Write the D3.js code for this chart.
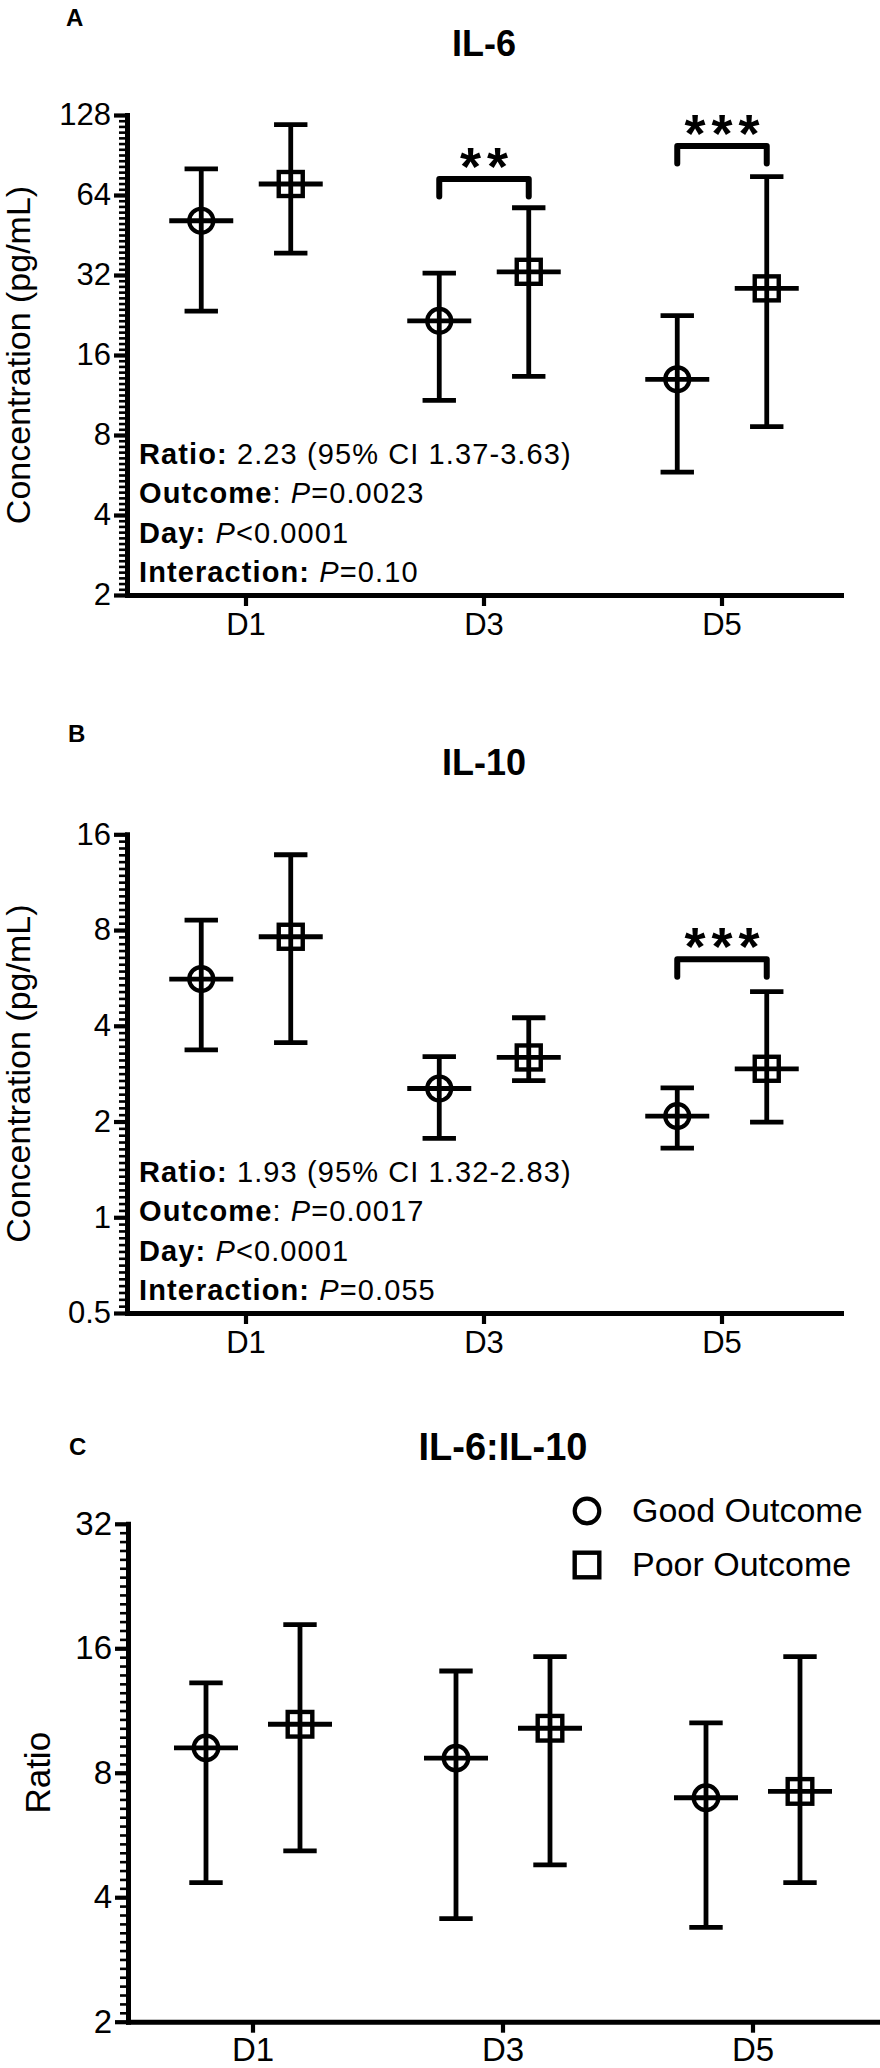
<!DOCTYPE html>
<html><head><meta charset="utf-8">
<script src="https://cdn.jsdelivr.net/npm/d3@7"></script>
<style>
body{margin:0;background:#fff}
svg{display:block}
text{font-family:"Liberation Sans",Arial,Helvetica,sans-serif;fill:#000}
</style>
</head><body>
<svg id="chart" width="880" height="2068"></svg>
<script>
// ---------- data ----------
const days = ["D1", "D3", "D5"];

// Panel A: IL-6 (pg/mL)
const il6GoodMean = [51.2, 21.5, 12.96];
const il6GoodLow  = [23.4, 10.8, 5.8];
const il6GoodHigh = [80.2, 32.5, 22.5];
const il6PoorMean = [70.4, 32.9, 28.5];
const il6PoorLow  = [38.7, 13.3, 8.6];
const il6PoorHigh = [117.7, 57.3, 75.0];
const il6Ticks = [2, 4, 8, 16, 32, 64, 128];
const il6Sig = [["D3", "**", 73.5], ["D5", "***", 97.9]];
const il6Stats = [
  [["Ratio:", "b"], [" 2.23 (95% CI 1.37-3.63)", ""]],
  [["Outcome", "b"], [": ", ""], ["P", "i"], ["=0.0023", ""]],
  [["Day:", "b"], [" ", ""], ["P", "i"], ["<0.0001", ""]],
  [["Interaction:", "b"], [" ", ""], ["P", "i"], ["=0.10", ""]]
];

// Panel B: IL-10 (pg/mL)
const il10GoodMean = [5.61, 2.54, 2.08];
const il10GoodLow  = [3.36, 1.77, 1.65];
const il10GoodHigh = [8.6, 3.2, 2.55];
const il10PoorMean = [7.62, 3.18, 2.93];
const il10PoorLow  = [3.54, 2.69, 1.99];
const il10PoorHigh = [13.8, 4.24, 5.12];
const il10Ticks = [0.5, 1, 2, 4, 8, 16];
const il10Sig = [["D5", "***", 6.47]];
const il10Stats = [
  [["Ratio:", "b"], [" 1.93 (95% CI 1.32-2.83)", ""]],
  [["Outcome", "b"], [": ", ""], ["P", "i"], ["=0.0017", ""]],
  [["Day:", "b"], [" ", ""], ["P", "i"], ["<0.0001", ""]],
  [["Interaction:", "b"], [" ", ""], ["P", "i"], ["=0.055", ""]]
];

// Panel C: IL-6:IL-10 ratio
const ratioGoodMean = [9.19, 8.68, 6.96];
const ratioGoodLow  = [4.34, 3.55, 3.38];
const ratioGoodHigh = [13.2, 14.1, 10.56];
const ratioPoorMean = [10.48, 10.25, 7.21];
const ratioPoorLow  = [5.18, 4.79, 4.34];
const ratioPoorHigh = [18.25, 15.27, 15.27];
const ratioTicks = [2, 4, 8, 16, 32];

const legendLabels = ["Good Outcome", "Poor Outcome"];

// ---------- drawing ----------
const svg = d3.select("#chart");
const FONT = '"Liberation Sans",Arial,Helvetica,sans-serif';
const LW = 4.8;

function drawPanel(cfg) {
  const g = svg.append("g");
  const x = d3.scaleBand().domain(days).range([cfg.x0, cfg.x1]);
  const bw = x.bandwidth();
  const cx = d => x(d) + bw / 2;
  const off = bw * 0.188;
  const y = d3.scaleLog().base(2).domain([cfg.ticks[0], cfg.ticks[cfg.ticks.length - 1]]).range([cfg.yBot, cfg.yTop]);

  // minor ticks
  const lo = Math.log2(cfg.ticks[0]), hi = Math.log2(cfg.ticks[cfg.ticks.length - 1]);
  const minor = [];
  for (let k = lo; k < hi; k++) for (let j = 1; j < 14; j++) minor.push(Math.pow(2, k + j / 14));
  const mg = g.append("g").attr("transform", `translate(${cfg.x0},0)`)
    .call(d3.axisLeft(y).tickValues(minor).tickSize(8).tickSizeOuter(0).tickFormat(""));
  mg.select(".domain").remove();
  mg.selectAll(".tick line").attr("stroke", "#000").attr("stroke-width", 2.6);

  // major y axis
  const ya = g.append("g").attr("transform", `translate(${cfg.x0},0)`)
    .call(d3.axisLeft(y).tickValues(cfg.ticks).tickSize(13).tickSizeOuter(0).tickPadding(3).tickFormat(d => String(d)));
  ya.select(".domain").attr("stroke", "#000").attr("stroke-width", 5).attr("stroke-linecap", "square");
  ya.selectAll(".tick line").attr("stroke", "#000").attr("stroke-width", 4.2);
  ya.selectAll(".tick text").attr("font-size", cfg.tickFont).attr("font-family", FONT).attr("fill", "#000");

  // x axis
  const xa = g.append("g").attr("transform", `translate(0,${cfg.yBot})`)
    .call(d3.axisBottom(x).tickSize(11).tickSizeOuter(0).tickPadding(cfg.xPad));
  xa.select(".domain").attr("stroke", "#000").attr("stroke-width", 5).attr("stroke-linecap", "square");
  xa.selectAll(".tick line").attr("stroke", "#000").attr("stroke-width", 4.2);
  xa.selectAll(".tick text").attr("font-size", cfg.tickFont).attr("font-family", FONT).attr("fill", "#000");

  // y label
  g.append("text")
    .attr("transform", `translate(${cfg.yLabelX},${(cfg.yTop + cfg.yBot) / 2}) rotate(-90)`)
    .attr("text-anchor", "middle").attr("font-size", cfg.yLabelFont).text(cfg.yLabel);

  // title & letter
  g.append("text").attr("x", (cfg.x0 + cfg.x1) / 2).attr("y", cfg.titleY)
    .attr("text-anchor", "middle").attr("font-weight", "bold").attr("font-size", cfg.titleFont).text(cfg.title);
  g.append("text").attr("x", cfg.letterX).attr("y", cfg.letterY)
    .attr("font-weight", "bold").attr("font-size", 24).text(cfg.letter);

  // series
  const series = [
    {mean: cfg.goodMean, low: cfg.goodLow, high: cfg.goodHigh, dx: -off, shape: "circle"},
    {mean: cfg.poorMean, low: cfg.poorLow, high: cfg.poorHigh, dx: off, shape: "square"}
  ];
  const capW = 16.7, meanW = 32;
  series.forEach(s => {
    const sg = g.append("g").attr("stroke", "#000").attr("stroke-width", LW).attr("fill", "none");
    days.forEach((d, i) => {
      const px = cx(d) + s.dx;
      sg.append("line").attr("x1", px).attr("x2", px).attr("y1", y(s.low[i])).attr("y2", y(s.high[i]));
      sg.append("line").attr("x1", px - capW).attr("x2", px + capW).attr("y1", y(s.low[i])).attr("y2", y(s.low[i]));
      sg.append("line").attr("x1", px - capW).attr("x2", px + capW).attr("y1", y(s.high[i])).attr("y2", y(s.high[i]));
      sg.append("line").attr("x1", px - meanW).attr("x2", px + meanW).attr("y1", y(s.mean[i])).attr("y2", y(s.mean[i]));
      if (s.shape === "circle") {
        sg.append("circle").attr("cx", px).attr("cy", y(s.mean[i])).attr("r", cfg.markR).attr("stroke-width", 4.2);
      } else {
        sg.append("rect").attr("x", px - cfg.markR).attr("y", y(s.mean[i]) - cfg.markR)
          .attr("width", cfg.markR * 2).attr("height", cfg.markR * 2).attr("stroke-width", 4.4);
      }
    });
  });

  // significance brackets
  (cfg.sig || []).forEach(([d, label, level]) => {
    const xg = cx(d) - off, xp = cx(d) + off, yb = y(level);
    g.append("path").attr("d", `M${xg},${yb + 17.5}V${yb}H${xp}V${yb + 17.5}`)
      .attr("fill", "none").attr("stroke", "#000").attr("stroke-width", 6)
      .attr("stroke-linecap", "round").attr("stroke-linejoin", "round");
    g.append("text").attr("x", (xg + xp) / 2 + 3).attr("y", yb + 6)
      .attr("text-anchor", "middle").attr("font-weight", "bold").attr("font-size", 54)
      .attr("letter-spacing", 6).text(label);
  });

  // stats text
  if (cfg.stats) {
    const offs = [-131, -92, -52.5, -13.5];
    cfg.stats.forEach((line, li) => {
      const t = g.append("text").attr("x", cfg.x0 + 12).attr("y", cfg.yBot + offs[li])
        .attr("font-size", 29).attr("letter-spacing", 1.1).style("white-space", "pre");
      line.forEach(([txt, st]) => {
        const ts = t.append("tspan").text(txt);
        if (st === "b") ts.attr("font-weight", "bold");
        if (st === "i") ts.attr("font-style", "italic");
      });
    });
  }

  // legend
  if (cfg.legend) {
    const lx = cfg.legend.x, ly = cfg.legend.y;
    const lg = g.append("g");
    lg.append("circle").attr("cx", lx).attr("cy", ly).attr("r", cfg.markR)
      .attr("fill", "none").attr("stroke", "#000").attr("stroke-width", 4.2);
    lg.append("rect").attr("x", lx - cfg.markR).attr("y", ly + 54 - cfg.markR)
      .attr("width", cfg.markR * 2).attr("height", cfg.markR * 2)
      .attr("fill", "none").attr("stroke", "#000").attr("stroke-width", 4.4);
    legendLabels.forEach((lab, i) => {
      lg.append("text").attr("x", lx + 45).attr("y", ly + 11 + i * 54).attr("font-size", 34).text(lab);
    });
  }
}

drawPanel({
  x0: 127, x1: 841, yTop: 115, yBot: 595, ticks: il6Ticks,
  goodMean: il6GoodMean, goodLow: il6GoodLow, goodHigh: il6GoodHigh,
  poorMean: il6PoorMean, poorLow: il6PoorLow, poorHigh: il6PoorHigh,
  sig: il6Sig, stats: il6Stats, title: "IL-6", titleY: 56, titleFont: 36,
  letter: "A", letterX: 66, letterY: 26, yLabel: "Concentration (pg/mL)", yLabelX: 30, yLabelFont: 34,
  tickFont: 31, xPad: 7, markR: 12
});
drawPanel({
  x0: 127, x1: 841, yTop: 834.3, yBot: 1313, ticks: il10Ticks,
  goodMean: il10GoodMean, goodLow: il10GoodLow, goodHigh: il10GoodHigh,
  poorMean: il10PoorMean, poorLow: il10PoorLow, poorHigh: il10PoorHigh,
  sig: il10Sig, stats: il10Stats, title: "IL-10", titleY: 775, titleFont: 36,
  letter: "B", letterX: 68, letterY: 742, yLabel: "Concentration (pg/mL)", yLabelX: 30, yLabelFont: 34,
  tickFont: 31, xPad: 7, markR: 12
});
drawPanel({
  x0: 128, x1: 878, yTop: 1523.8, yBot: 2021.7, ticks: ratioTicks,
  goodMean: ratioGoodMean, goodLow: ratioGoodLow, goodHigh: ratioGoodHigh,
  poorMean: ratioPoorMean, poorLow: ratioPoorLow, poorHigh: ratioPoorHigh,
  title: "IL-6:IL-10", titleY: 1459.5, titleFont: 38,
  letter: "C", letterX: 69, letterY: 1455, yLabel: "Ratio", yLabelX: 50, yLabelFont: 35,
  tickFont: 33, xPad: 5, markR: 12.3, legend: {x: 587, y: 1511}
});
</script>
</body></html>
